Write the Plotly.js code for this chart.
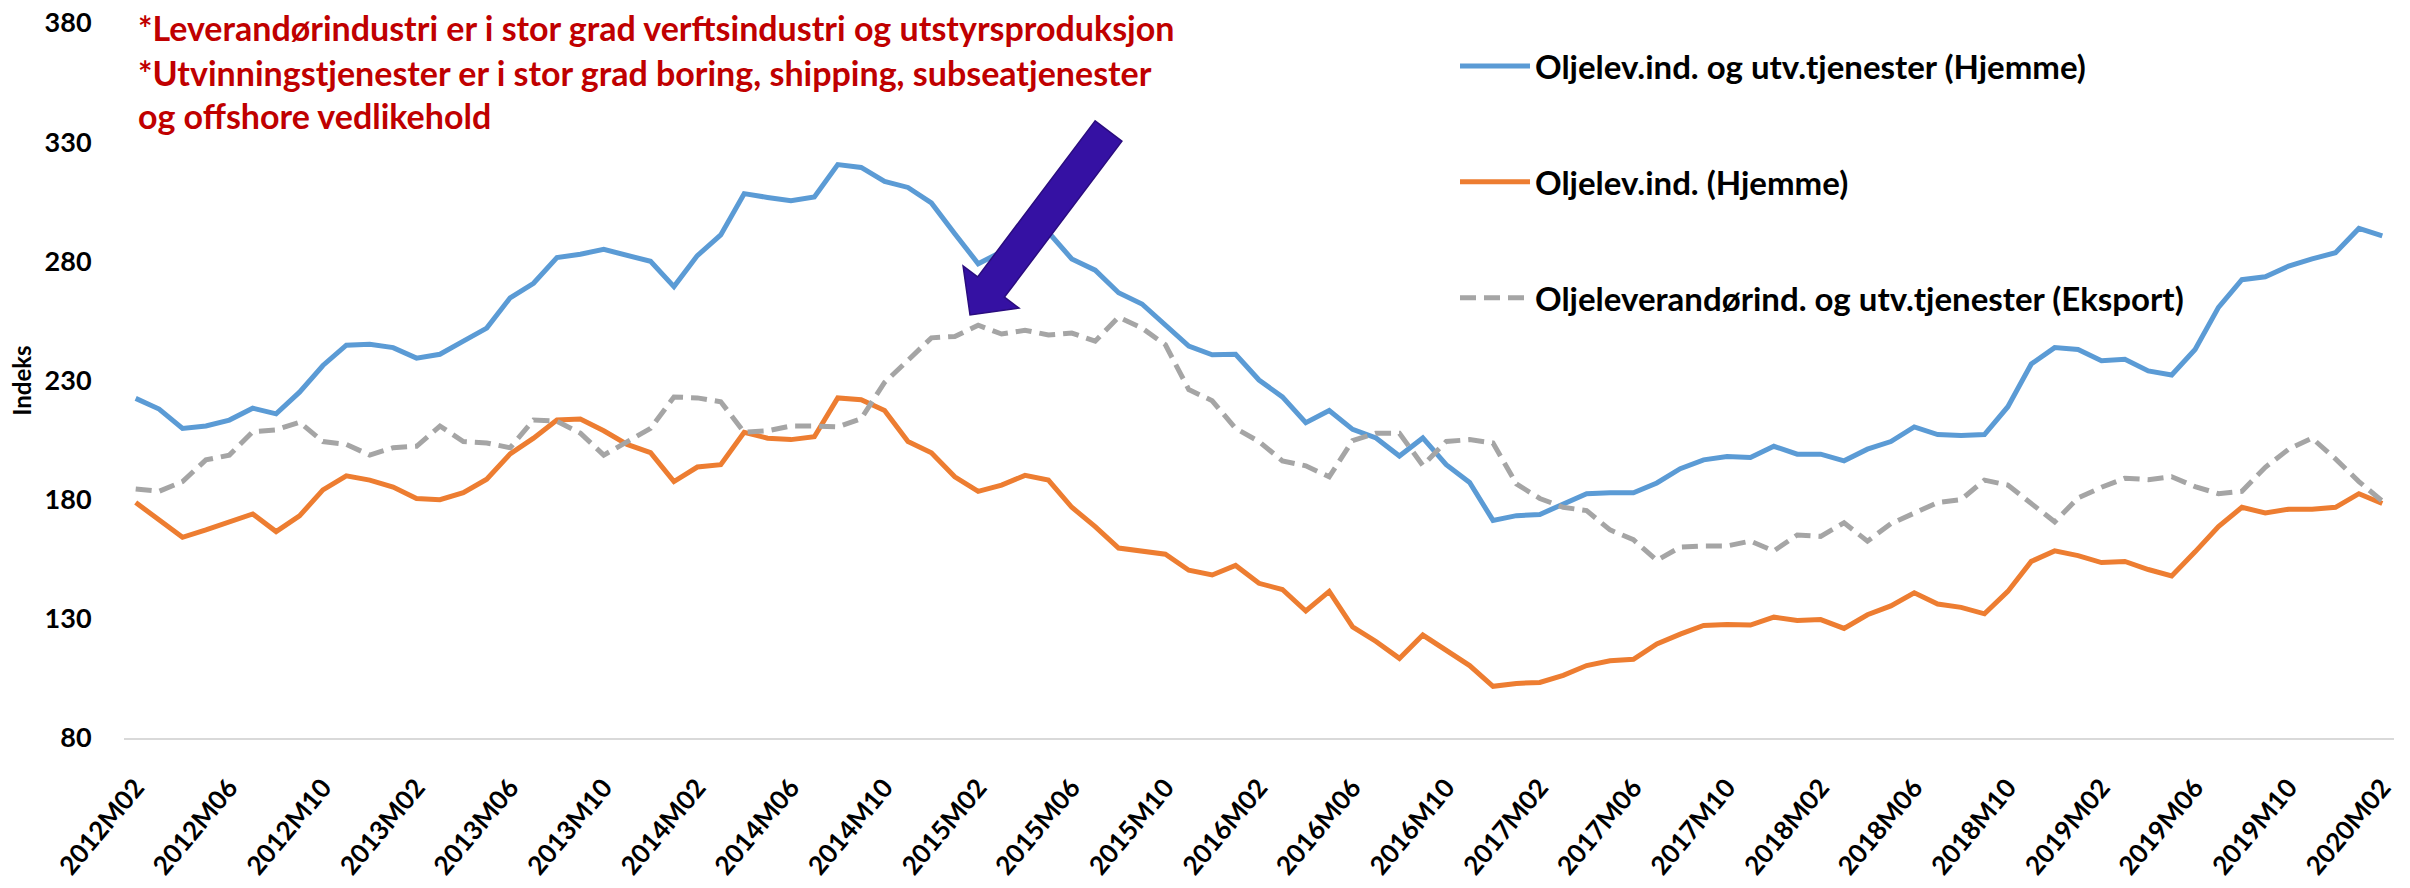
<!DOCTYPE html>
<html>
<head>
<meta charset="utf-8">
<script src="https://cdn.plot.ly/plotly-3.0.1.min.js"></script>
<style>
  html, body { margin: 0; padding: 0; background: #ffffff; }
  #chart { width: 2410px; height: 888px; }
</style>
</head>
<body>
<div id="chart"></div>
<script>
// ---- Data ----
const months = [
  "2012M02","2012M03","2012M04","2012M05","2012M06","2012M07","2012M08","2012M09","2012M10","2012M11","2012M12",
  "2013M01","2013M02","2013M03","2013M04","2013M05","2013M06","2013M07","2013M08","2013M09","2013M10","2013M11","2013M12",
  "2014M01","2014M02","2014M03","2014M04","2014M05","2014M06","2014M07","2014M08","2014M09","2014M10","2014M11","2014M12",
  "2015M01","2015M02","2015M03","2015M04","2015M05","2015M06","2015M07","2015M08","2015M09","2015M10","2015M11","2015M12",
  "2016M01","2016M02","2016M03","2016M04","2016M05","2016M06","2016M07","2016M08","2016M09","2016M10","2016M11","2016M12",
  "2017M01","2017M02","2017M03","2017M04","2017M05","2017M06","2017M07","2017M08","2017M09","2017M10","2017M11","2017M12",
  "2018M01","2018M02","2018M03","2018M04","2018M05","2018M06","2018M07","2018M08","2018M09","2018M10","2018M11","2018M12",
  "2019M01","2019M02","2019M03","2019M04","2019M05","2019M06","2019M07","2019M08","2019M09","2019M10","2019M11","2019M12",
  "2020M01","2020M02"
];

const tickLabels = [
  "2012M02","2012M06","2012M10","2013M02","2013M06","2013M10","2014M02","2014M06","2014M10",
  "2015M02","2015M06","2015M10","2016M02","2016M06","2016M10","2017M02","2017M06","2017M10",
  "2018M02","2018M06","2018M10","2019M02","2019M06","2019M10","2020M02"
];

const seriesNames = [
  "Oljelev.ind. og utv.tjenester (Hjemme)",
  "Oljelev.ind. (Hjemme)",
  "Oljeleverandørind. og utv.tjenester (Eksport)"
];

const hjemmeTotal = [
  222.5,218.0,209.9,210.9,213.4,218.4,216.0,225.1,236.3,244.8,245.2,
  243.8,239.4,241.0,246.5,252.0,264.7,270.8,281.6,283.0,285.0,282.4,280.0,
  269.4,282.4,291.1,308.4,306.8,305.4,307.0,320.6,319.4,313.5,311.0,304.5,
  291.6,279.0,284.0,289.0,292.2,281.0,276.3,266.8,262.1,253.2,244.4,240.8,
  241.0,230.2,223.1,212.3,217.4,209.5,205.9,198.3,205.9,194.7,187.2,171.3,
  173.3,173.8,178.0,182.5,182.9,182.9,187.0,193.0,196.7,198.1,197.7,202.4,
  199.1,199.1,196.3,201.2,204.4,210.5,207.3,206.9,207.3,219.0,236.9,243.8,
  243.0,238.3,238.9,234.0,232.3,243.0,260.7,272.3,273.5,278.0,281.0,283.6,
  293.8,290.7
];

const hjemmeLev = [
  178.8,171.3,164.2,167.3,170.7,174.0,166.6,173.2,184.1,190.0,188.2,
  185.3,180.5,180.0,182.9,188.6,199.2,205.8,213.4,213.8,208.9,203.2,199.7,
  187.6,193.7,194.7,208.3,205.8,205.2,206.4,222.7,221.9,217.4,204.4,199.7,
  189.6,183.5,186.1,190.2,188.2,176.8,168.7,159.7,158.5,157.1,150.4,148.4,
  152.4,144.9,142.3,133.3,141.5,126.6,120.5,113.4,123.2,116.5,110.4,101.7,
  102.9,103.3,106.3,110.4,112.4,113.0,119.5,123.6,127.2,127.6,127.4,130.7,
  129.3,129.7,126.0,131.7,135.4,140.9,136.2,134.8,132.1,141.5,154.1,158.5,
  156.5,153.6,154.1,150.7,148.0,158.1,168.7,176.8,174.4,176.0,176.0,176.8,
  182.5,178.4
];

const eksport = [
  184.5,183.5,187.6,196.7,198.7,208.5,209.3,212.5,204.4,203.2,198.7,
  201.8,202.4,210.9,204.4,203.8,201.8,213.4,212.9,207.9,198.7,204.4,209.9,
  223.1,222.7,221.1,208.3,208.9,210.9,210.9,210.5,214.0,229.2,238.5,247.9,
  248.5,253.2,249.5,251.1,249.1,249.9,246.5,256.6,252.0,245.0,226.2,221.5,
  209.9,204.4,196.3,194.2,189.6,204.8,207.9,207.9,194.3,204.4,205.2,203.8,
  186.6,180.5,176.8,175.4,167.3,163.2,154.5,160.1,160.6,160.6,162.6,158.5,
  165.2,164.6,170.3,162.6,169.9,174.4,178.8,180.0,188.2,186.1,178.4,170.7,
  180.7,185.2,189.0,188.4,189.6,185.5,182.5,183.5,193.6,201.2,205.8,197.1,
  187.6,179.4
];

const noteLines = [
  "*Leverandørindustri er i stor grad verftsindustri og utstyrsproduksjon",
  "*Utvinningstjenester er i stor grad boring, shipping, subseatjenester",
  "og offshore vedlikehold"
];

// ---- Layout geometry (pixels) ----
const W = 2410, H = 888;
const M = { l: 124, r: 16, t: 23, b: 150 };
const plotW = W - M.l - M.r, plotH = H - M.t - M.b;
const px2x = p => (p - M.l) / plotW;
const py2y = p => (H - M.b - p) / plotH;

const FONT = "Lato, 'Open Sans', 'DejaVu Sans', sans-serif";

const traces = [
  { name: seriesNames[0], y: hjemmeTotal, color: "#5B9BD5", dash: "solid" },
  { name: seriesNames[1], y: hjemmeLev, color: "#ED7D31", dash: "solid" },
  { name: seriesNames[2], y: eksport, color: "#A5A5A5", dash: "16px,8px" }
].map((s, k) => ({
  type: "scatter",
  mode: "lines",
  x: months,
  y: s.y,
  name: s.name,
  legendgroup: "g" + k,
  line: { color: s.color, width: 5, dash: s.dash, shape: "linear" },
  hoverinfo: "x+y+name"
}));

// Block arrow annotation (pixel geometry converted to paper coords)
function blockArrow(tail, tip, shaftHalf, headHalf, headLen) {
  const dx = tip[0] - tail[0], dy = tip[1] - tail[1];
  const len = Math.hypot(dx, dy);
  const d = [dx / len, dy / len];
  const n = [-d[1], d[0]];
  const B = [tip[0] - headLen * d[0], tip[1] - headLen * d[1]];
  const pts = [
    [tail[0] + shaftHalf * n[0], tail[1] + shaftHalf * n[1]],
    [B[0] + shaftHalf * n[0], B[1] + shaftHalf * n[1]],
    [B[0] + headHalf * n[0], B[1] + headHalf * n[1]],
    tip,
    [B[0] - headHalf * n[0], B[1] - headHalf * n[1]],
    [B[0] - shaftHalf * n[0], B[1] - shaftHalf * n[1]],
    [tail[0] - shaftHalf * n[0], tail[1] - shaftHalf * n[1]]
  ];
  return "M" + pts.map(p => px2x(p[0]).toFixed(5) + "," + py2y(p[1]).toFixed(5)).join(" L") + " Z";
}

const noteY = [28, 72, 115];
const annotations = noteLines.map((t, i) => ({
  text: t,
  xref: "paper", yref: "paper",
  x: px2x(136), y: py2y(noteY[i]),
  xanchor: "left", yanchor: "middle",
  showarrow: false,
  font: { family: FONT, size: 34, color: "#C00000", weight: "bold" }
}));

const layout = {
  width: W, height: H,
  margin: M,
  paper_bgcolor: "#ffffff",
  plot_bgcolor: "#ffffff",
  showlegend: true,
  legend: {
    x: px2x(1455), y: py2y(38),
    xanchor: "left", yanchor: "top",
    bgcolor: "rgba(0,0,0,0)",
    traceorder: "grouped",
    tracegroupgap: 70,
    itemwidth: 70,
    font: { family: FONT, size: 33, color: "#000000", weight: "bold" }
  },
  xaxis: {
    type: "category",
    range: [-0.5, months.length - 0.5],
    tickmode: "array",
    tickvals: tickLabels,
    ticktext: tickLabels,
    tickangle: -50,
    ticks: "outside",
    ticklen: 22,
    tickcolor: "rgba(0,0,0,0)",
    showgrid: false,
    zeroline: false,
    showline: true,
    linecolor: "#D9D9D9",
    linewidth: 2,
    tickfont: { family: FONT, size: 26, color: "#000000", weight: "bold" },
    fixedrange: true
  },
  yaxis: {
    range: [80, 380],
    tickmode: "linear",
    tick0: 80,
    dtick: 50,
    ticks: "outside",
    ticklen: 26,
    tickcolor: "rgba(0,0,0,0)",
    showgrid: false,
    zeroline: false,
    showline: false,
    tickfont: { family: FONT, size: 27, color: "#000000", weight: "bold" },
    title: {
      text: "Indeks",
      standoff: 6,
      font: { family: FONT, size: 24, color: "#000000", weight: "bold" }
    },
    fixedrange: true
  },
  shapes: [{
    type: "path",
    xref: "paper", yref: "paper",
    path: blockArrow([1108.5, 131], [970, 315], 16.8, 35, 35),
    fillcolor: "#3511A3",
    line: { color: "#2A0C7E", width: 1.5 },
    layer: "above"
  }],
  annotations: annotations
};

Plotly.newPlot("chart", traces, layout, { displayModeBar: false, staticPlot: true });
</script>
</body>
</html>
